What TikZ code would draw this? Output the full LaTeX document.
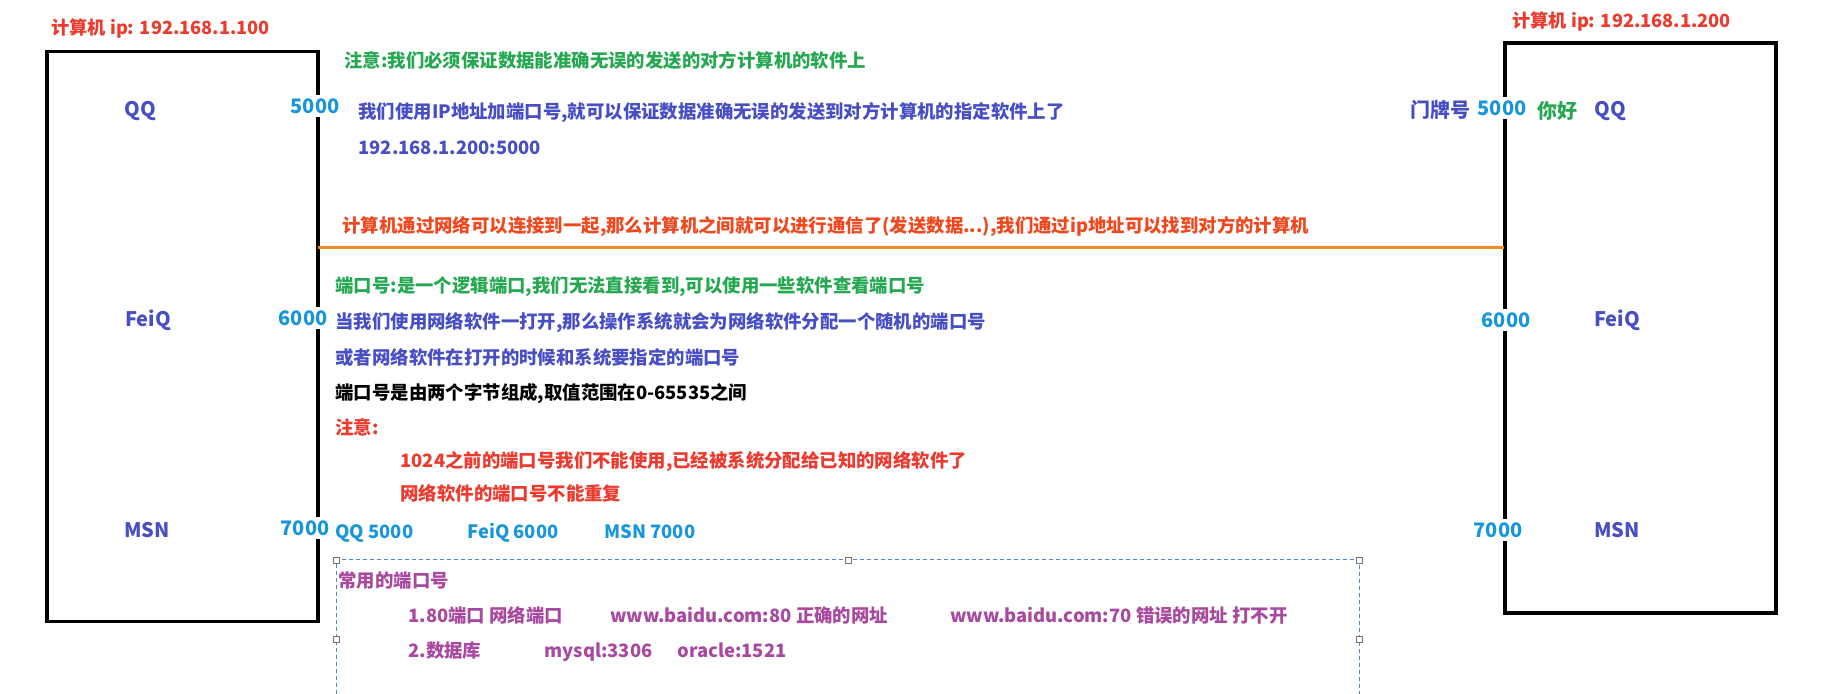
\documentclass[tikz,border=0pt]{standalone}
\usepackage{fontspec}
\setmainfont{Noto Sans CJK SC}
\definecolor{pcred}{RGB}{236,58,46}
\definecolor{notegreen}{RGB}{38,168,82}
\definecolor{textblue}{RGB}{72,78,196}
\definecolor{portblue}{RGB}{24,150,218}
\definecolor{netorange}{RGB}{242,138,40}
\definecolor{nettext}{RGB}{240,72,30}
\definecolor{listpurple}{RGB}{168,72,158}
\definecolor{selblue}{RGB}{70,140,205}
\usetikzlibrary{positioning}

\begin{document}
\begin{tikzpicture}[
  x=0.5pt, y=-0.5pt,
  pcbox/.style={draw=black, line width=1.65pt, minimum width=271*0.5pt, minimum height=570*0.5pt, inner sep=0pt},
  txt/.style={anchor=west, inner sep=0pt, text height=0.8em, text depth=0.2em, font=\fontsize{9.2}{11}\selectfont\bfseries},
  title/.style={anchor=west, inner sep=0pt, text=pcred, font=\fontsize{9.1}{11}\selectfont\bfseries},
  app/.style={inner sep=0pt, text=textblue, font=\fontsize{10}{12}\selectfont\bfseries},
  port/.style={fill=white, inner sep=1.5pt, text=portblue, font=\fontsize{10}{12}\selectfont\bfseries},
  netline/.style={draw=netorange, line width=1.5pt},
  selbox/.style={draw=selblue, line width=0.5pt, dash pattern=on 2pt off 1.5pt},
  handle/.style={draw=black!55, fill=white, line width=0.4pt, minimum size=3pt, inner sep=0pt}
]
  \useasboundingbox (0,0) rectangle (1828,694);

  % the two computers
  \node[pcbox] (pcA) at (182.5,336.5) {};
  \node[pcbox] (pcB) at (1640.5,328) {};
  \node[title] (ipA) at (51,29) {计算机 ip: 192.168.1.100};
  \node[title] (ipB) at (1512,22) {计算机 ip: 192.168.1.200};

  \node[app] (qqA) at (140,111) {QQ};
  \node[app] (feiqA) at (148,320) {FeiQ};
  \node[app] (msnA) at (147,530) {MSN};
  \node[port] (p5000A) at (315,106) {5000};
  \node[port] (p6000A) at (303,318) {6000};
  \node[port] (p7000A) at (305,528) {7000};

  \node[app] (qqB) at (1610,111) {QQ};
  \node[app] (feiqB) at (1617,320) {FeiQ};
  \node[app] (msnB) at (1617,530) {MSN};
  \node[port] (p5000B) at (1502,108) {5000};
  \node[port] (p6000B) at (1506,320) {6000};
  \node[port] (p7000B) at (1498,530) {7000};
  \node[app, text=textblue] (doorB) at (1440,110) {门牌号};
  \node[app, text=notegreen] (helloB) at (1557,111) {你好};

  % network between them
  \coordinate (netA) at (318,248);
  \coordinate (netB) at (1504,248);
  \draw[netline] (netA) -- (netB);

  \node[txt, text=notegreen] (note1) at (344,62) {注意:我们必须保证数据能准确无误的发送的对方计算机的软件上};
  \node[txt, text=textblue] (ipport) at (358,113) {我们使用IP地址加端口号,就可以保证数据准确无误的发送到对方计算机的指定软件上了};
  \node[txt, text=textblue] (addr) at (358,149) {192.168.1.200:5000};
  \node[txt, text=nettext] (nettxt) at (342,227) {计算机通过网络可以连接到一起,那么计算机之间就可以进行通信了(发送数据...),我们通过ip地址可以找到对方的计算机};

  \node[txt, text=notegreen] (port1) at (335,287) {端口号:是一个逻辑端口,我们无法直接看到,可以使用一些软件查看端口号};
  \node[txt, text=textblue] (port2) at (335,323) {当我们使用网络软件一打开,那么操作系统就会为网络软件分配一个随机的端口号};
  \node[txt, text=textblue] (port3) at (335,359) {或者网络软件在打开的时候和系统要指定的端口号};
  \node[txt, text=black] (port4) at (335,394) {端口号是由两个字节组成,取值范围在0-65535之间};
  \node[txt, text=pcred] (note2) at (335,429) {注意:};
  \node[txt, text=pcred] (note2a) at (400,462) {1024之前的端口号我们不能使用,已经被系统分配给已知的网络软件了};
  \node[txt, text=pcred] (note2b) at (400,495) {网络软件的端口号不能重复};

  \node[txt, text=portblue] (lsqq) at (335,533) {QQ 5000};
  \node[txt, text=portblue] (lsfeiq) at (467,533) {FeiQ 6000};
  \node[txt, text=portblue] (lsmsn) at (604,533) {MSN 7000};

  % common ports, selected text box
  \draw[selbox] (336,694) -- (336,560) -- (1359,560) -- (1359,694);
  \foreach \hx/\hy in {336/560, 848/560, 1359/560, 336/639, 1359/639}
    \node[handle] at (\hx,\hy) {};

  \node[txt, text=listpurple] (common) at (338,582) {常用的端口号};
  \node[txt, text=listpurple] (web) at (408,617) {1.80端口 网络端口};
  \node[txt, text=listpurple] (webok) at (610,617) {www.baidu.com:80 正确的网址};
  \node[txt, text=listpurple] (webbad) at (950,617) {www.baidu.com:70 错误的网址 打不开};
  \node[txt, text=listpurple] (db) at (408,652) {2.数据库};
  \node[txt, text=listpurple] (mysql) at (544,652) {mysql:3306};
  \node[txt, text=listpurple] (oracle) at (677,652) {oracle:1521};
\end{tikzpicture}
\end{document}
